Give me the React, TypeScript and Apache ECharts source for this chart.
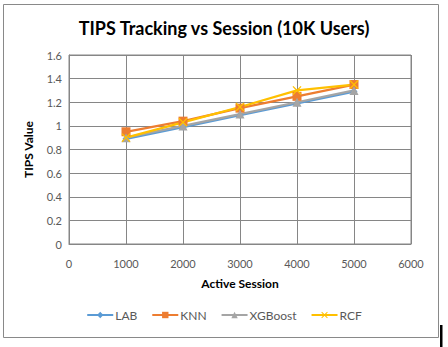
import React, { useEffect, useRef } from "react";
import * as echarts from "echarts";

const sessions = [1000, 2000, 3000, 4000, 5000];
const labValues = [0.89, 0.99, 1.09, 1.19, 1.29];
const knnValues = [0.95, 1.04, 1.15, 1.25, 1.35];
const xgbValues = [0.9, 1.0, 1.1, 1.2, 1.3];
const rcfValues = [0.9, 1.03, 1.16, 1.3, 1.35];
const seriesNames = ["LAB", "KNN", "XGBoost", "RCF"];

const X_SYMBOL =
  "path://M0,1 L1,0 L5,4 L9,0 L10,1 L6,5 L10,9 L9,10 L5,6 L1,10 L0,9 L4,5 Z";

export default function App() {
  const ref = useRef<HTMLDivElement>(null);
  useEffect(() => {
    document.body.style.margin = "0";
    const chart = echarts.init(ref.current!, null, { renderer: "svg" });
    const font = "Lato, 'Liberation Sans', sans-serif";
    const mk = (name: string, data: number[], color: string, symbol: string, size: number) => ({
      name,
      type: "line",
      data: sessions.map((s, i) => [s, data[i]]),
      symbol,
      symbolSize: size,
      lineStyle: { color, width: 2.25 },
      itemStyle: { color },
    });
    chart.setOption({
      animation: false,
      backgroundColor: "#ffffff",
      title: {
        text: "TIPS Tracking vs Session (10K Users)",
        left: "center",
        top: 14,
        textStyle: { fontFamily: font, fontSize: 18, fontWeight: "bold", color: "#000" },
      },
      graphic: [
        {
          type: "rect",
          shape: { x: 3.5, y: 4.5, width: 435, height: 333 },
          style: { fill: "none", stroke: "#898989", lineWidth: 1 },
          silent: true,
        },
        {
          type: "rect",
          shape: { x: 440, y: 325, width: 2.5, height: 22 },
          style: { fill: "#000" },
          silent: true,
        },
      ],
      legend: {
        data: seriesNames,
        bottom: 21,
        left: "center",
        itemWidth: 26,
        itemHeight: 8,
        itemGap: 14,
        textStyle: { fontFamily: font, fontSize: 12, color: "#595959", padding: [0, 0, 0, -3] },
      },
      grid: {
        left: 69,
        top: 55,
        right: 37,
        bottom: 103,
        show: true,
        borderColor: "#868686",
        borderWidth: 1,
      },
      xAxis: {
        type: "value",
        min: 0,
        max: 6000,
        interval: 1000,
        name: "Active Session",
        nameLocation: "middle",
        nameGap: 33,
        nameTextStyle: { fontFamily: font, fontSize: 12, fontWeight: "bold", color: "#000" },
        axisLine: { show: true, lineStyle: { color: "#868686" } },
        axisTick: { show: false },
        axisLabel: {
          fontFamily: font,
          fontSize: 11,
          color: "#595959",
          margin: 14,
          formatter: (v: number) => String(v),
        },
        splitLine: { show: true, lineStyle: { color: "#868686", width: 1 } },
      },
      yAxis: {
        type: "value",
        min: 0,
        max: 1.6,
        interval: 0.2,
        name: "TIPS Value",
        nameLocation: "middle",
        nameGap: 35,
        nameTextStyle: { fontFamily: font, fontSize: 12, fontWeight: "bold", color: "#000" },
        axisLine: { show: true, lineStyle: { color: "#868686" } },
        axisTick: { show: false },
        axisLabel: {
          fontFamily: font,
          fontSize: 11,
          color: "#595959",
          margin: 7,
          formatter: (v: number) => String(Math.round(v * 10) / 10),
        },
        splitLine: { show: true, lineStyle: { color: "#868686", width: 1 } },
      },
      series: [
        mk("LAB", labValues, "#5B9BD5", "diamond", 7),
        mk("KNN", knnValues, "#ED7D31", "rect", 9),
        mk("XGBoost", xgbValues, "#A5A5A5", "triangle", 9),
        mk("RCF", rcfValues, "#FFC000", X_SYMBOL, 9),
      ],
    });
    return () => chart.dispose();
  }, []);
  return <div ref={ref} style={{ width: 448, height: 347 }} />;
}
